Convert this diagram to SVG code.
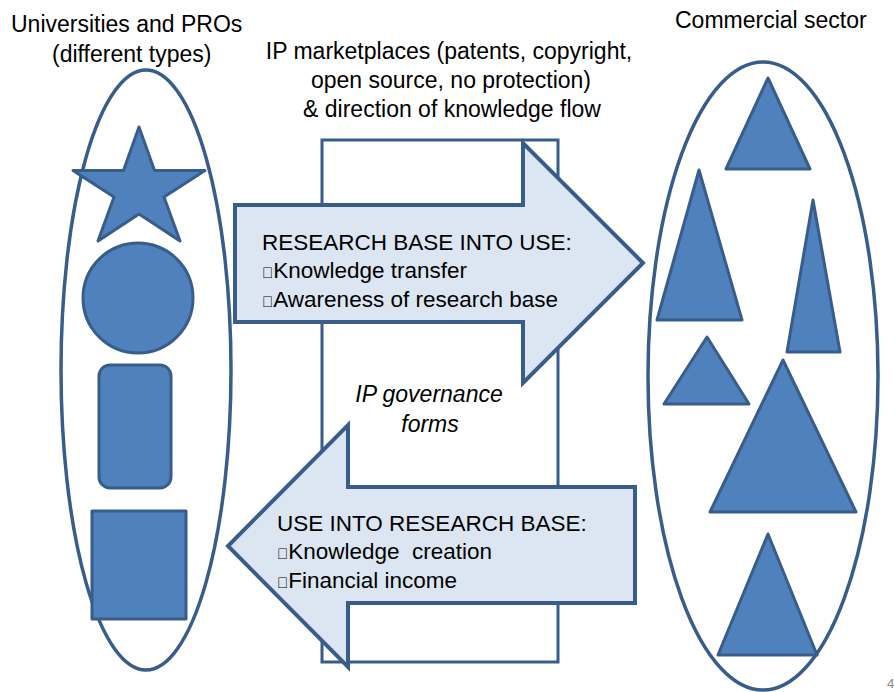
<svg xmlns="http://www.w3.org/2000/svg" width="894" height="692" viewBox="0 0 894 692">
  <style>
    .lbl { font-family: "Liberation Sans", Arial, sans-serif; font-size: 23px; fill: #000; }
    .arr { font-size: 22.5px; }
    .bul { font-size: 15px; }
    .it { font-style: italic; }
    .mid { text-anchor: middle; }
    .shape { fill: #4F81BD; stroke: #385D8A; stroke-width: 3; stroke-linejoin: round; }
    .oval { fill: none; stroke: #385D8A; stroke-width: 3.5; }
    .arrow { fill: #DCE6F2; stroke: #385D8A; stroke-width: 4; stroke-linejoin: miter; }
    .frame { fill: #fff; stroke: #385D8A; stroke-width: 3; }
  </style>
  <rect width="894" height="692" fill="#fff"/>

  <!-- Headings -->
  <g id="heading-left">
    <text class="lbl" x="11" y="32" font-size="22">Universities and PROs</text>
    <text class="lbl" x="52" y="62">(different types)</text>
  </g>
  <g id="heading-right">
    <text class="lbl" x="675" y="28">Commercial sector</text>
  </g>
  <g id="heading-centre">
    <text class="lbl mid" x="449" y="59">IP marketplaces (patents, copyright,</text>
    <text class="lbl mid" x="451" y="88">open source, no protection)</text>
    <text class="lbl mid" x="452" y="117">&amp; direction of knowledge flow</text>
  </g>

  <!-- Governance frame between the two sides -->
  <g id="governance">
    <rect class="frame" x="322" y="140" width="236" height="522"/>
    <text class="lbl it mid" x="429" y="402">IP governance</text>
    <text class="lbl it mid" x="430" y="432">forms</text>
  </g>

  <!-- Universities and PROs -->
  <g id="universities">
    <ellipse class="oval" cx="146" cy="370" rx="85" ry="300"/>
    <polygon class="shape" points="139,127 154.5,170.5 205,170.5 164,197 180,241 139,214 98,241 114,197 73,170.5 123.5,170.5"/>
    <circle class="shape" cx="138" cy="298" r="55"/>
    <rect class="shape" x="99" y="365" width="72" height="123" rx="11"/>
    <rect class="shape" x="92" y="511" width="94" height="108"/>
  </g>

  <!-- Commercial sector -->
  <g id="commercial">
    <ellipse class="oval" cx="763" cy="376" rx="115" ry="314"/>
    <polygon class="shape" points="768,78 810,169 726,169"/>
    <polygon class="shape" points="699,170 742,320 657,320"/>
    <polygon class="shape" points="813,200 840,352 787,352"/>
    <polygon class="shape" points="707,337 749,404 664,404"/>
    <polygon class="shape" points="783,360 856,512 710,512"/>
    <polygon class="shape" points="768,534 817,655 718,655"/>
  </g>

  <!-- Knowledge flow arrows -->
  <g id="connectors">
    <g id="flow-out">
      <polygon class="arrow" points="235,205 523,205 523,143 643,263 523,383 523,322 235,322"/>
      <text class="lbl arr" x="262" y="250">RESEARCH BASE INTO USE:</text>
      <text class="lbl arr" x="262" y="278"><tspan class="bul">&#xF0A7;</tspan>Knowledge transfer</text>
      <text class="lbl arr" x="262" y="307"><tspan class="bul">&#xF0A7;</tspan>Awareness of research base</text>
    </g>
    <g id="flow-back">
      <polygon class="arrow" points="635,487 348,487 348,425 228,546 348,667 348,603 635,603"/>
      <text class="lbl arr" x="277" y="531">USE INTO RESEARCH BASE:</text>
      <text class="lbl arr" x="277" y="559" xml:space="preserve"><tspan class="bul">&#xF0A7;</tspan>Knowledge  creation</text>
      <text class="lbl arr" x="277" y="588"><tspan class="bul">&#xF0A7;</tspan>Financial income</text>
    </g>
  </g>

  <text x="887" y="688" font-family="Liberation Sans, Arial, sans-serif" font-size="13" fill="#888">4</text>
</svg>
